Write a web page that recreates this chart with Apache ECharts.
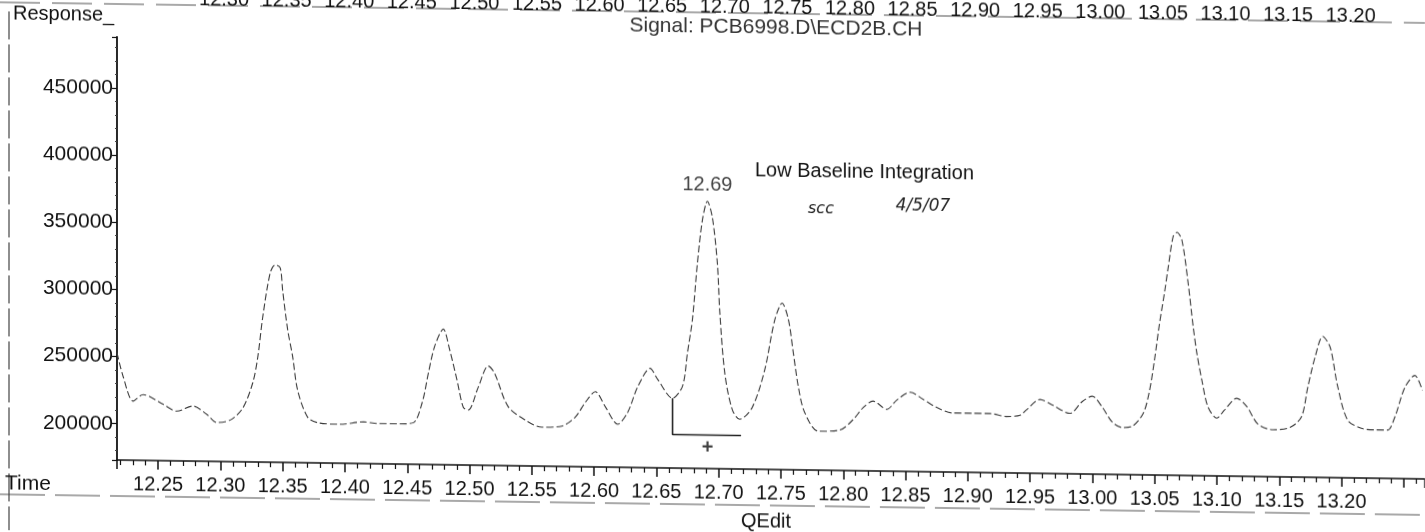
<!DOCTYPE html>
<html>
<head>
<meta charset="utf-8">
<script src="https://cdn.jsdelivr.net/npm/echarts/dist/echarts.min.js"></script>
<style>
  html, body { margin: 0; padding: 0; background: #fff; overflow: hidden; width: 1425px; height: 532px; }
  #chart { position: absolute; left: 0; top: -30px; width: 1425px; height: 562px;
           transform: skewY(0.83deg); transform-origin: 117px 30px; }
</style>
</head>
<body>
<div id="chart"></div>
<script>
// Retention time (min)
const retentionTimes = [
  12.217, 12.222, 12.230, 12.238, 12.254, 12.265, 12.278, 12.289, 12.297, 12.308,
  12.318, 12.326, 12.330, 12.334, 12.340, 12.344, 12.348, 12.350, 12.354, 12.358,
  12.362, 12.370, 12.378, 12.396, 12.415, 12.426, 12.444, 12.455, 12.462, 12.467,
  12.472, 12.479, 12.484, 12.490, 12.495, 12.499, 12.507, 12.515, 12.520, 12.531,
  12.545, 12.558, 12.574, 12.585, 12.593, 12.601, 12.609, 12.619, 12.627, 12.635,
  12.645, 12.651, 12.663, 12.671, 12.675, 12.679, 12.683, 12.687, 12.691, 12.695,
  12.699, 12.701, 12.705, 12.711, 12.717, 12.727, 12.737, 12.745, 12.751, 12.756,
  12.760, 12.764, 12.769, 12.780, 12.797, 12.808, 12.816, 12.824, 12.835, 12.843,
  12.854, 12.864, 12.875, 12.888, 12.904, 12.918, 12.931, 12.942, 12.947, 12.958,
  12.968, 12.982, 12.992, 13.000, 13.008, 13.016, 13.024, 13.032, 13.041, 13.046,
  13.050, 13.054, 13.058, 13.061, 13.065, 13.068, 13.072, 13.077, 13.081, 13.084,
  13.088, 13.093, 13.100, 13.106, 13.116, 13.124, 13.133, 13.145, 13.159, 13.168,
  13.173, 13.179, 13.185, 13.191, 13.197, 13.205, 13.216, 13.227, 13.237, 13.243,
  13.251, 13.259, 13.265
];
// Detector response
const responses = [
  253000, 235000, 217000, 222000, 215000, 210000, 214000, 208000, 202000, 204000,
  213000, 232000, 251000, 281000, 314000, 320000, 318000, 301000, 272000, 252000,
  227000, 207000, 203000, 202000, 204000, 203000, 203000, 204000, 219000, 241000,
  261000, 274000, 259000, 236000, 216000, 214000, 231000, 247000, 242000, 217000,
  207000, 202000, 203000, 210000, 221000, 229000, 218000, 205000, 214000, 233000,
  247000, 239000, 225000, 234000, 259000, 284000, 326000, 358000, 372000, 360000,
  326000, 289000, 244000, 217000, 210000, 219000, 247000, 284000, 297000, 285000,
  260000, 235000, 216000, 202000, 203000, 211000, 220000, 225000, 219000, 226000,
  232000, 227000, 221000, 217000, 217000, 217000, 215000, 216000, 220000, 228000,
  224000, 218000, 227000, 231000, 223000, 212000, 208000, 209000, 219000, 236000,
  259000, 286000, 309000, 328000, 351000, 354000, 348000, 316000, 284000, 264000,
  244000, 224000, 216000, 222000, 231000, 225000, 212000, 208000, 210000, 218000,
  240000, 263000, 278000, 270000, 241000, 216000, 210000, 209000, 209000, 219000,
  241000, 250000, 239000
];
// Integration baseline (low baseline) for the 12.69 peak
const baselineTimes = [12.663, 12.663, 12.718];
const baselineValues = [225000, 198000, 198000];
// Peak annotation
const peakTimes = [12.691];
const peakValues = [372000];
const peakLabels = ['12.69'];
const crossTimes = [12.691];
const crossValues = [188000];

const xTickLabels = ['12.25','12.30','12.35','12.40','12.45','12.50','12.55','12.60','12.65','12.70',
  '12.75','12.80','12.85','12.90','12.95','13.00','13.05','13.10','13.15','13.20'];
const topTickLabels = ['12.30','12.35','12.40','12.45','12.50','12.55','12.60','12.65','12.70',
  '12.75','12.80','12.85','12.90','12.95','13.00','13.05','13.10','13.15','13.20'];
const yTickLabels = ['200000','250000','300000','350000','400000','450000'];

const FONT = '"Liberation Sans", Arial, sans-serif';
const INK = '#111';
const OY = 30; // canvas extends 30px above the page

function fmtFrom(list) {
  return function (v) {
    const s = v.toFixed(2);
    return (list.indexOf(s) >= 0 && Math.abs(v - parseFloat(s)) < 1e-6) ? s : '';
  };
}

const chart = echarts.init(document.getElementById('chart'), null, { renderer: 'canvas' });
chart.setOption({
  animation: false,
  backgroundColor: '#fff',
  grid: { left: 117, right: 0, top: 37 + OY, bottom: 72, containLabel: false, outerBoundsMode: 'none' },
  xAxis: [{
    type: 'value', position: 'bottom',
    min: 12.217, max: 13.267, splitNumber: 21, minInterval: 0.05, maxInterval: 0.05,
    axisLine: { show: true, lineStyle: { color: INK, width: 1.5 } },
    axisTick: { show: true, inside: false, length: 9, lineStyle: { color: INK, width: 1.5 } },
    minorTick: { show: true, splitNumber: 5, length: 5, lineStyle: { color: INK, width: 1.2 } },
    axisLabel: { margin: 14, fontSize: 20, fontFamily: FONT, color: INK, formatter: fmtFrom(xTickLabels) },
    splitLine: { show: false }, minorSplitLine: { show: false }
  }, {
    type: 'value', position: 'top', gridIndex: 0,
    min: 12.2145, max: 13.2593, splitNumber: 21, minInterval: 0.05, maxInterval: 0.05,
    axisLine: { show: false }, axisTick: { show: false },
    axisLabel: { margin: 29, fontSize: 20, fontFamily: FONT, color: INK, formatter: fmtFrom(topTickLabels) },
    splitLine: { show: false }
  }],
  yAxis: {
    type: 'value', min: 173000, max: 488000, splitNumber: 7, minInterval: 50000, maxInterval: 50000,
    axisLine: { show: true, lineStyle: { color: INK, width: 1.8 } },
    axisTick: { show: true, inside: false, length: 5, lineStyle: { color: INK, width: 1.2 } },
    minorTick: { show: true, splitNumber: 5, length: 2, lineStyle: { color: '#444', width: 1 } },
    axisLabel: {
      margin: 4, fontSize: 21, fontFamily: FONT, color: INK,
      formatter: function (v) { const s = String(Math.round(v)); return yTickLabels.indexOf(s) >= 0 ? s : ''; }
    },
    splitLine: { show: false }
  },
  series: [{
    name: 'Signal', type: 'line', xAxisIndex: 0,
    data: retentionTimes.map((t, i) => [t, responses[i]]),
    smooth: 0.3, symbol: 'none',
    lineStyle: { color: '#3a3a3a', width: 1.1, type: [7, 3] }
  }, {
    name: 'Baseline', type: 'line', xAxisIndex: 0,
    data: baselineTimes.map((t, i) => [t, baselineValues[i]]),
    symbol: 'none', lineStyle: { color: '#222', width: 1.6 }
  }, {
    name: 'Peak', type: 'scatter', xAxisIndex: 0,
    data: peakTimes.map((t, i) => [t, peakValues[i]]),
    symbolSize: 0,
    label: { show: true, position: 'top', distance: 6, fontSize: 20, fontFamily: FONT, color: INK,
      formatter: p => peakLabels[p.dataIndex] }
  }, {
    name: 'Cross', type: 'scatter', xAxisIndex: 0,
    data: crossTimes.map((t, i) => [t, crossValues[i]]),
    symbolSize: 0,
    label: { show: true, position: 'inside', fontSize: 20, fontWeight: 'bold', fontFamily: FONT, color: INK, formatter: '+' }
  }],
  graphic: [
    { type: 'line', shape: { x1: 0, y1: 4 + OY, x2: 1425, y2: 4 + OY }, style: { stroke: '#555', lineWidth: 1.2, lineDash: [40, 12] } },
    { type: 'line', shape: { x1: 0, y1: 496 + OY, x2: 1425, y2: 496 + OY }, style: { stroke: '#555', lineWidth: 1.2, lineDash: [45, 10] } },
    { type: 'line', shape: { x1: 9, y1: 13 + OY, x2: 9, y2: 532 + OY }, style: { stroke: '#444', lineWidth: 1.2, lineDash: [28, 5] } },
    { type: 'text', x: 13, y: 15 + OY, style: { text: 'Response_', font: '20px ' + FONT, fill: INK, align: 'left', verticalAlign: 'middle' } },
    { type: 'text', x: 776, y: 18 + OY, style: { text: 'Signal: PCB6998.D\\ECD2B.CH', font: '21px ' + FONT, fill: '#333', align: 'center', verticalAlign: 'middle' } },
    { type: 'text', x: 755, y: 161 + OY, style: { text: 'Low Baseline Integration', font: '20px ' + FONT, fill: INK, align: 'left', verticalAlign: 'middle' } },
    { type: 'text', x: 821, y: 199 + OY, style: { text: 'scc', font: 'italic 16px "DejaVu Sans", sans-serif', fill: '#222', align: 'center', verticalAlign: 'middle' } },
    { type: 'text', x: 923, y: 195 + OY, style: { text: '4/5/07', font: 'italic 17px "DejaVu Sans", sans-serif', fill: '#222', align: 'center', verticalAlign: 'middle' } },
    { type: 'text', x: 5, y: 485 + OY, style: { text: 'Time', font: '21px ' + FONT, fill: INK, align: 'left', verticalAlign: 'middle' } },
    { type: 'text', x: 766, y: 512 + OY, style: { text: 'QEdit', font: '20px ' + FONT, fill: INK, align: 'center', verticalAlign: 'middle' } }
  ]
});
</script>
</body>
</html>
